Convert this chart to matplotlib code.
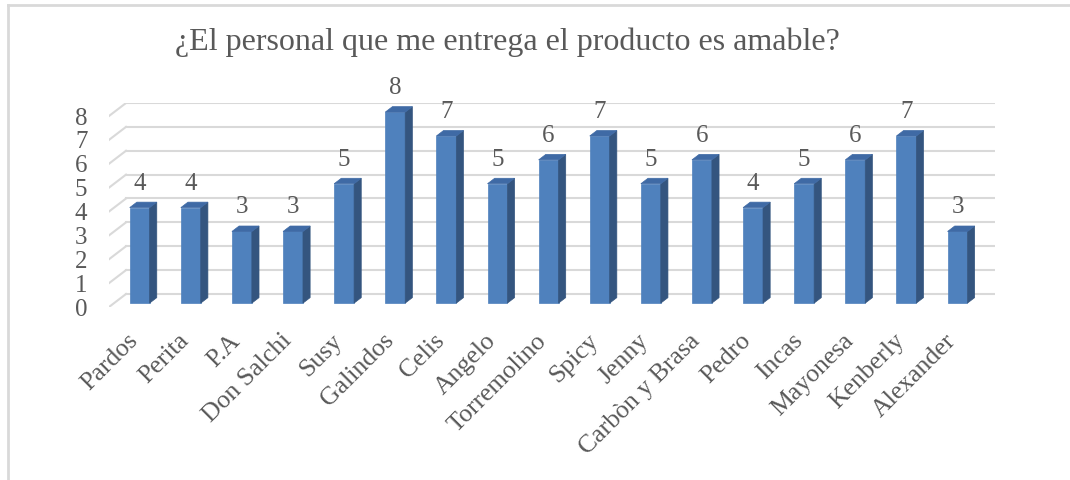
import matplotlib.pyplot as plt
from matplotlib.patches import Polygon
from matplotlib.lines import Line2D
from matplotlib.transforms import ScaledTranslation

plt.rcParams['font.family'] = ['Liberation Serif', 'DejaVu Serif']

categories = ["Pardos", "Perita", "P.A", "Don Salchi", "Susy", "Galindos", "Celis",
              "Angelo", "Torremolino", "Spicy", "Jenny", "Carbòn y Brasa", "Pedro",
              "Incas", "Mayonesa", "Kenberly", "Alexander"]
values = [4, 4, 3, 3, 5, 8, 7, 5, 6, 7, 5, 6, 4, 5, 6, 7, 3]
yticks = [0, 1, 2, 3, 4, 5, 6, 7, 8]
title = "¿El personal que me entrega el producto es amable?"

# fake 3d look: full depth shift in data units, bar sits between f0 and f1 of depth
DX = 0.333
DY = 0.545
f0, f1 = 0.3, 0.72
bw = 0.39

front = '#4F81BD'
side = '#34557F'
top = '#3F6AA5'
grid = '#D9D9D9'
txt = '#595959'

fig = plt.figure(figsize=(10.7, 4.8), dpi=100)
ax = fig.add_axes([109/1070, 173/480, 886/1070, 204/480])
ax.set_xlim(-0.5, 16.5 + DX)
ax.set_ylim(0, 8 + DY)

# walls: back gridlines + diagonal side lines
for t in yticks:
    ax.plot([-0.5 + DX, 16.5 + DX], [t + DY, t + DY], color=grid, lw=1.5, zorder=1)
    ax.plot([-0.5, -0.5 + DX], [t, t + DY], color=grid, lw=1.5, zorder=1)

for i, v in enumerate(values):
    xl = i + f0 * DX - bw / 2
    xr = xl + bw
    y0 = f0 * DY
    ddx = (f1 - f0) * DX
    ddy = (f1 - f0) * DY
    ax.bar(xl, v, width=bw, bottom=y0, align='edge', color=front, zorder=3,
           edgecolor=front, linewidth=0.5)
    ax.add_patch(Polygon([(xr, y0), (xr + ddx, y0 + ddy), (xr + ddx, y0 + v + ddy),
                          (xr, y0 + v)], closed=True, facecolor=side, edgecolor=side,
                         lw=0.5, zorder=3))
    ax.add_patch(Polygon([(xl, y0 + v), (xr, y0 + v), (xr + ddx, y0 + v + ddy),
                          (xl + ddx, y0 + v + ddy)], closed=True, facecolor=top,
                         edgecolor=top, lw=0.5, zorder=3))
    ax.annotate(str(v), (i + f0 * DX, y0 + v), xytext=(0, 13), textcoords='offset pixels',
                ha='center', va='bottom', fontsize=18, color=txt, annotation_clip=False)

for s in ax.spines.values():
    s.set_visible(False)
ax.set_yticks(yticks)
ax.set_yticklabels([str(t) for t in yticks], fontsize=18, color=txt)
ax.set_xticks(range(len(categories)))
ax.set_xticklabels(categories, rotation=45, ha='right', va='center',
                   rotation_mode='anchor', fontsize=18.5, color=txt)
shift = ScaledTranslation(-4/100, 0, fig.dpi_scale_trans)
for lab in ax.get_xticklabels():
    lab.set_transform(lab.get_transform() + shift)
ax.tick_params(axis='y', length=0, pad=15.5)
ax.tick_params(axis='x', length=0, pad=22)

fig.text(507/1070, 1 - 42/480, title, ha='center', va='center', fontsize=23, color=txt)

# chart frame
fig.add_artist(Line2D([8/1070, 1], [1 - 5/480, 1 - 5/480], color=grid, lw=2,
                      transform=fig.transFigure))
fig.add_artist(Line2D([8/1070, 8/1070], [0, 1 - 5/480], color=grid, lw=2,
                      transform=fig.transFigure))

fig.savefig('out.png', dpi=100)
